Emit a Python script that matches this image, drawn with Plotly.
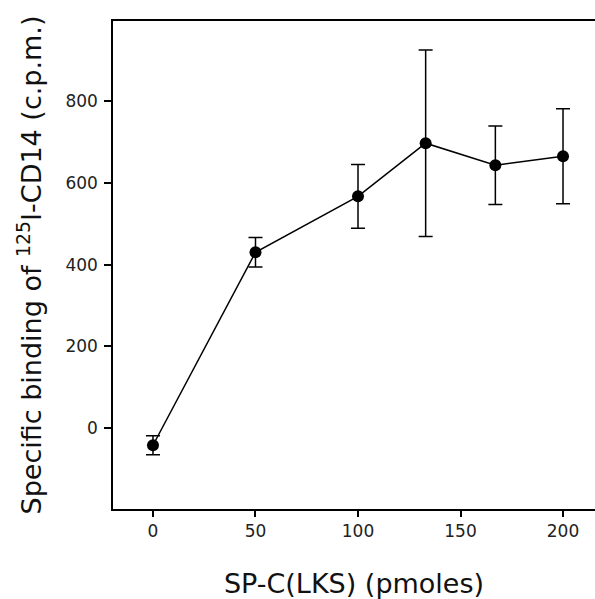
import plotly.graph_objects as go

# Data
x_pmoles = [0, 50, 100, 133, 167, 200]
binding_cpm = [-42, 430, 567, 697, 643, 665]
error_cpm = [23, 36, 78, 228, 96, 116]

x_ticks = [0, 50, 100, 150, 200]
y_ticks = [0, 200, 400, 600, 800]

font_family = "DejaVu Sans, Liberation Sans, Arial, sans-serif"

fig = go.Figure()
fig.add_trace(go.Scatter(
    x=x_pmoles,
    y=binding_cpm,
    mode="lines+markers",
    line=dict(color="black", width=1.5),
    marker=dict(color="black", size=12, symbol="circle"),
    error_y=dict(type="data", array=error_cpm, visible=True,
                 color="black", thickness=1.5, width=7),
    showlegend=False,
))

fig.update_layout(
    width=595, height=599,
    margin=dict(l=113, r=0, t=21, b=90, autoexpand=False),
    paper_bgcolor="white",
    plot_bgcolor="white",
    font=dict(family=font_family, color="black"),
    xaxis=dict(
        range=[-19.5, 215.6],
        tickmode="array", tickvals=x_ticks,
        ticktext=[str(v) for v in x_ticks],
        ticks="outside", ticklen=6, tickwidth=1.5, tickcolor="black",
        showline=True, linecolor="black", linewidth=1.5, mirror=True,
        showgrid=False, zeroline=False, automargin=False,
        tickfont=dict(size=17, color="#222"),
        title=dict(text="SP-C(LKS) (pmoles)", font=dict(size=27, color="#111"),
                   standoff=34),
    ),
    yaxis=dict(
        range=[-198, 996],
        tickmode="array", tickvals=y_ticks,
        ticktext=[str(v) for v in y_ticks],
        ticks="outside", ticklen=7, tickwidth=1.5, tickcolor="black",
        showline=True, linecolor="black", linewidth=1.5, mirror=False,
        showgrid=False, zeroline=False, automargin=False,
        ticklabelstandoff=3,
        tickfont=dict(size=17, color="#222"),
        title=dict(text="Specific binding of <sup>125</sup>I-CD14 (c.p.m.)",
                   font=dict(size=27, color="#111"), standoff=16),
    ),
)

fig.write_html("out.html",
               config={"displayModeBar": False},
               post_script="document.body.style.margin='0px';document.body.style.overflow='hidden';")
